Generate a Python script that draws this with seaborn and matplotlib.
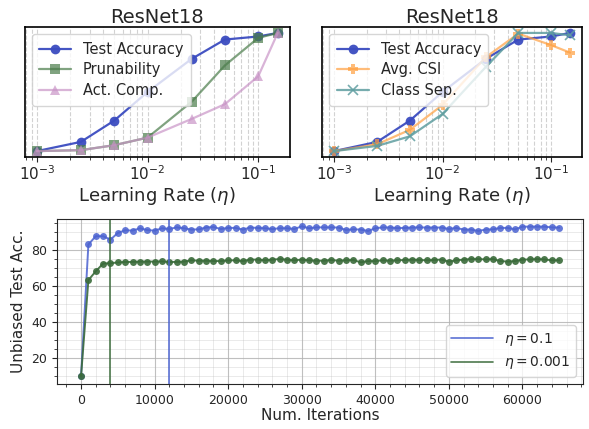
import numpy as np
import pandas as pd
import matplotlib
matplotlib.use("Agg")
import matplotlib.pyplot as plt
import seaborn as sns

sns.set_style("ticks")
plt.rcParams.update({
    'font.family': ['DejaVu Sans'],
    'mathtext.fontset': 'dejavusans',
})

# Learning-rate sweep (normalized scores)
lrs = [0.001, 0.0025, 0.005, 0.01, 0.025, 0.05, 0.1, 0.15]
test_acc = [0.0, 0.078, 0.258, 0.50, 0.78, 0.944, 0.97, 1.0]
prunability = [0.0, 0.008, 0.05, 0.114, 0.417, 0.725, 0.958, 1.0]
act_comp = [0.0, 0.008, 0.05, 0.114, 0.272, 0.397, 0.633, 1.0]
avg_csi = [0.0, 0.058, 0.18, 0.39, 0.794, 0.994, 0.897, 0.833]
class_sep = [0.0, 0.044, 0.125, 0.314, 0.711, 1.0, 1.0, 0.98]

# Training curves (unbiased test accuracy every 1000 iterations)
iterations = list(range(0, 66000, 1000))
acc_lr01 = [10.0, 83.3, 87.9, 87.9, 86.0, 89.7, 91.2, 91.0, 92.3, 91.3,
            91.0, 92.3, 91.9, 92.8, 92.3, 91.6, 91.7, 92.7, 93.0, 91.9,
            92.5, 92.5, 91.6, 92.7, 92.5, 92.3, 91.9, 92.3, 92.3, 91.9,
            93.4, 92.3, 92.8, 92.8, 92.8, 92.7, 91.4, 91.7, 91.6, 90.8,
            92.3, 92.8, 92.7, 92.4, 92.5, 92.7, 92.8, 92.7, 92.7, 92.7,
            91.9, 92.5, 91.6, 91.6, 90.8, 91.6, 91.7, 92.5, 92.5, 91.7,
            93.2, 93.2, 93.2, 93.2, 92.8, 92.7]
acc_lr0001 = [10.2, 63.5, 68.4, 72.7, 72.9, 73.3, 73.6, 73.6, 73.8, 73.8,
              73.8, 73.9, 73.6, 73.6, 73.8, 74.5, 74.3, 74.3, 74.1, 74.1,
              74.5, 74.5, 74.1, 74.9, 74.9, 74.5, 74.9, 75.2, 74.9, 74.5,
              74.9, 74.5, 74.3, 74.3, 74.7, 74.3, 74.5, 74.7, 73.4, 74.1,
              74.1, 74.5, 74.3, 74.5, 74.7, 74.9, 74.7, 74.5, 74.7, 74.9,
              73.8, 74.5, 74.9, 75.2, 75.2, 75.0, 75.2, 74.1, 73.8, 74.1,
              74.9, 75.0, 75.2, 75.0, 74.5, 74.5]
best_iter_lr01 = 12000
best_iter_lr0001 = 4000

blue = '#3b4cc0'
green = '#4a7c4a'
pink = '#c994c7'
orange = '#ffa040'
teal = '#5f9ea0'

fig = plt.figure(figsize=(5.89, 4.29), dpi=100)
ax1 = fig.add_axes([0.042, 0.634, 0.450, 0.303])
ax2 = fig.add_axes([0.547, 0.634, 0.441, 0.303])
ax3 = fig.add_axes([0.097, 0.105, 0.893, 0.385])

def top_panel(ax, series):
    ax.set_xscale('log')
    for label, vals, color, marker, alpha in series:
        sns.lineplot(x=lrs, y=vals, ax=ax, color=color, marker=marker,
                     markersize=7, alpha=alpha, linewidth=1.6,
                     markeredgecolor=color,
                     markeredgewidth=1.2 if marker == 'x' else 0,
                     label=label)
    ax.grid(True, which='both', axis='x', linestyle='--', color='gray', alpha=0.35, linewidth=0.8)
    ax.set_yticks([])
    ax.set_ylabel('')
    ax.set_title('ResNet18', fontsize=14, pad=3)
    ax.set_xlabel(r'Learning Rate ($\eta$)', fontsize=13, labelpad=1)
    ax.tick_params(axis='x', labelsize=11, pad=2)
    for s in ax.spines.values():
        s.set_color('black')
        s.set_linewidth(1.2)
    ax.legend(loc='upper left', fontsize=10.5, handlelength=2.2, borderpad=0.5,
              labelspacing=0.4, framealpha=0.8)

top_panel(ax1, [
    ('Test Accuracy', test_acc, blue, 'o', 0.95),
    ('Prunability', prunability, green, 's', 0.7),
    ('Act. Comp.', act_comp, pink, '^', 0.7),
])
top_panel(ax2, [
    ('Test Accuracy', test_acc, blue, 'o', 0.95),
    ('Avg. CSI', avg_csi, orange, 'P', 0.7),
    ('Class Sep.', class_sep, teal, 'x', 0.85),
])

# Bottom: training curves
c_hi = '#4a62d0'
c_lo = '#3a6b3a'
df = pd.DataFrame({'iter': iterations, 'lr01': acc_lr01, 'lr0001': acc_lr0001})
sns.lineplot(data=df, x='iter', y='lr01', ax=ax3, color=c_hi, alpha=0.85,
             marker='o', markersize=5, markeredgecolor=c_hi, markeredgewidth=0, linewidth=1.4)
sns.lineplot(data=df, x='iter', y='lr0001', ax=ax3, color=c_lo, alpha=0.9,
             marker='o', markersize=5, markeredgecolor=c_lo, markeredgewidth=0, linewidth=1.4)
ax3.axvline(best_iter_lr01, color=c_hi, linewidth=1.2, alpha=0.9, label=r'$\eta = 0.1$')
ax3.axvline(best_iter_lr0001, color=c_lo, linewidth=1.2, alpha=0.9, label=r'$\eta = 0.001$')
ax3.minorticks_on()
ax3.grid(True, which='major', color='#b0b0b0', linewidth=0.8, alpha=0.8)
ax3.grid(True, which='minor', color='#b0b0b0', linewidth=0.6, alpha=0.3)
ax3.set_xlabel('Num. Iterations', fontsize=11, labelpad=1)
ax3.set_ylabel('Unbiased Test Acc.', fontsize=11)
ax3.set_yticks([20, 40, 60, 80])
ax3.tick_params(axis='both', labelsize=9)
ax3.legend(loc='lower right', fontsize=10, handlelength=3, framealpha=0.8)

fig.savefig('out.png', dpi=100)
